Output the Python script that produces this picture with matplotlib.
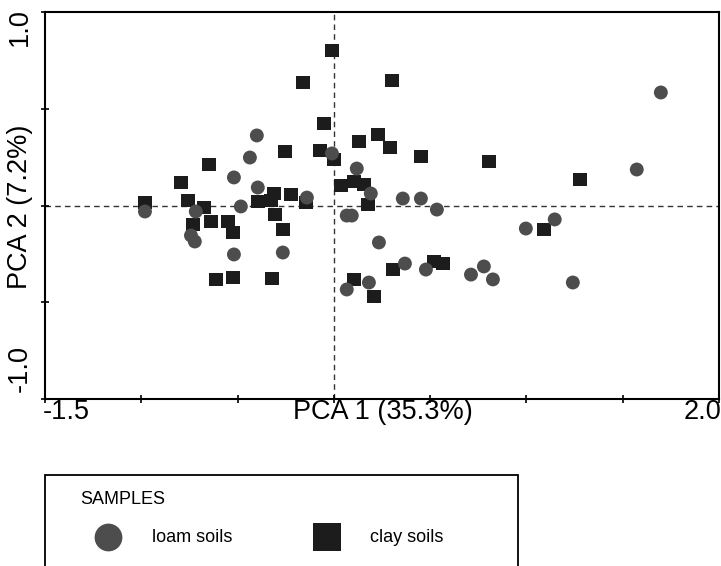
import matplotlib
matplotlib.use("Agg")
import matplotlib.pyplot as plt
from matplotlib.patches import Rectangle
from matplotlib.lines import Line2D

plt.rcParams['font.family'] = ['Liberation Sans', 'DejaVu Sans']

# PCA scores
loam_x = [1.698, 1.573, -0.400, -0.436, -0.519, -0.395, -0.010, 0.119, 0.192, -0.140,
          0.358, 0.452, 0.535, -0.483, -0.717, -0.981, 0.067, 0.093, 0.234, 0.369,
          0.478, 0.182, 0.067, -0.265, -0.519, -0.742, -0.722, 0.997, 1.147, 0.712,
          0.779, 0.826, 1.241]
loam_y = [0.584, 0.186, 0.362, 0.248, 0.145, 0.093, 0.269, 0.191, 0.062, 0.041,
          0.036, 0.036, -0.021, -0.005, -0.031, -0.031, -0.052, -0.052, -0.191, -0.300,
          -0.331, -0.398, -0.434, -0.243, -0.253, -0.155, -0.186, -0.119, -0.072, -0.357,
          -0.315, -0.382, -0.398]

clay_x = [-0.010, -0.161, 0.301, -0.052, 0.130, 0.228, 0.291, -0.254, -0.073, 0.000,
          0.452, 0.805, -0.649, -0.794, 1.277, 0.036, 0.104, 0.156, 0.177, -0.312,
          -0.223, -0.327, -0.395, -0.758, -0.981, -0.675, -0.732, -0.639, -0.550, -0.524,
          -0.306, -0.265, -0.613, -0.524, -0.322, -0.145, 0.104, 0.208, 0.306, 0.519,
          0.566, 1.090]
clay_y = [0.801, 0.636, 0.646, 0.424, 0.331, 0.367, 0.300, 0.279, 0.284, 0.238,
          0.253, 0.227, 0.212, 0.119, 0.134, 0.103, 0.124, 0.109, 0.005, 0.062,
          0.057, 0.026, 0.021, 0.026, 0.016, -0.010, -0.098, -0.083, -0.083, -0.140,
          -0.047, -0.124, -0.382, -0.372, -0.377, 0.016, -0.382, -0.470, -0.331, -0.289,
          -0.300, -0.124]

x_ticks = [-1.5, -1.0, -0.5, 0.0, 0.5, 1.0, 1.5, 2.0]
y_ticks = [-1.0, -0.5, 0.0, 0.5, 1.0]
x_label = "PCA 1 (35.3%)"
y_label = "PCA 2 (7.2%)"
legend_title = "SAMPLES"
series_names = ["loam soils", "clay soils"]

W, H = 721, 566
fig = plt.figure(figsize=(W / 100, H / 100), dpi=100)
L, R, T, B = 45, 719, 12, 399
ax = fig.add_axes([L / W, 1 - B / H, (R - L) / W, (B - T) / H])
ax.set_xlim(-1.5, 2.0)
ax.set_ylim(-1.0, 1.0)

circ_col = '#4d4d4d'
sq_col = '#1c1c1c'

ax.axhline(0, color='#333333', lw=1.0, ls=(0, (4, 3)), zorder=1)
ax.axvline(0, color='#333333', lw=1.0, ls=(0, (4, 3)), zorder=1)

ax.scatter(clay_x, clay_y, marker='s', s=95, color=sq_col, edgecolors='none', zorder=3)
ax.scatter(loam_x, loam_y, marker='o', s=100, color=circ_col, edgecolors='none', zorder=4)

ax.set_xticks(x_ticks)
ax.set_yticks(y_ticks)
ax.set_xticklabels([])
ax.set_yticklabels([])
ax.tick_params(direction='inout', length=6, width=1.2, color='black')
for s in ax.spines.values():
    s.set_linewidth(1.5)
    s.set_color('black')

fs = 19.5
# x tick labels at ends and the axis title on the same row
fig.text(43 / W, 1 - 412 / H, f"{x_ticks[0]:.1f}", ha='left', va='center', fontsize=fs)
fig.text(721 / W, 1 - 412 / H, f"{x_ticks[-1]:.1f}", ha='right', va='center', fontsize=fs)
fig.text(383 / W, 1 - 412 / H, x_label, ha='center', va='center', fontsize=fs)
# y tick labels (rotated) and title
fig.text(20 / W, 1 - 27 / H, f"{y_ticks[-1]:.1f}", ha='center', va='center', rotation=90, fontsize=fs)
fig.text(20 / W, 1 - 369 / H, f"{y_ticks[0]:.1f}", ha='center', va='center', rotation=90, fontsize=fs)
fig.text(20 / W, 1 - 207 / H, y_label, ha='center', va='center', rotation=90, fontsize=fs)

# legend box
box = Rectangle((45 / W, -0.1), (518 - 45) / W, (0.1 + 1 - 475 / H), transform=fig.transFigure,
                fill=False, edgecolor='black', lw=1.3)
fig.patches.append(box)
fig.text(80 / W, 1 - 499 / H, legend_title, ha='left', va='center', fontsize=13)
fig.add_artist(Line2D([108 / W], [1 - 537 / H], marker='o', markersize=20, color=circ_col,
                      markeredgewidth=0, linestyle='none', transform=fig.transFigure))
fig.add_artist(Line2D([327 / W], [1 - 537 / H], marker='s', markersize=20, color=sq_col,
                      markeredgewidth=0, linestyle='none', transform=fig.transFigure))
fig.text(152 / W, 1 - 537 / H, series_names[0], ha='left', va='center', fontsize=13)
fig.text(370 / W, 1 - 537 / H, series_names[1], ha='left', va='center', fontsize=13)

fig.savefig("out.png", dpi=100)
